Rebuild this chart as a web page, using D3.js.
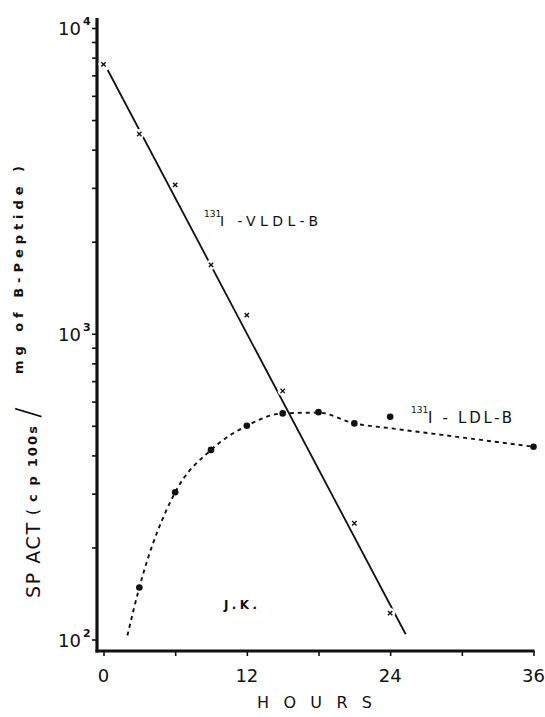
<!DOCTYPE html>
<html>
<head>
<meta charset="utf-8">
<script src="https://cdn.jsdelivr.net/npm/d3@7"></script>
<style>
  html, body { margin: 0; padding: 0; background: #fff; }
  svg { display: block; }
  text { font-family: "DejaVu Sans", "Liberation Sans", sans-serif; fill: #111; }
</style>
</head>
<body>
<svg id="chart" width="545" height="717"></svg>
<script>
// ---------------- data ----------------
const vldlHours  = [0, 3, 6, 9, 12, 15, 21, 24];
const vldlValues = [7600, 4500, 3070, 1680, 1150, 650, 240, 122];

// regression line drawn through the VLDL points (start / end)
const vldlFitHours  = [0.35, 25.3];
const vldlFitValues = [7290, 104];

const ldlHours  = [3, 6, 9, 12, 15, 18, 21, 24, 36];
const ldlValues = [148, 303, 417, 500, 549, 554, 509, 535, 427];

// hand-drawn smooth curve through the LDL points
const ldlCurveHours  = [2, 3, 6, 9, 12, 15, 18, 21, 24, 30, 36];
const ldlCurveValues = [103, 148, 303, 417, 500, 549, 552, 509, 491, 458, 427];

const xTickValues  = [0, 6, 12, 18, 24, 30, 36];
const xTickLabels  = [0, 12, 24, 36];
const yMinorTicks  = [100,200,300,400,500,600,700,800,900,1000,2000,3000,4000,5000,6000,7000,8000,9000,10000];
const yDecades     = [{v:100, exp:"2"}, {v:1000, exp:"3"}, {v:10000, exp:"4"}];

// ---------------- scales ----------------
const svg = d3.select("#chart");
const x = d3.scaleLinear().domain([0, 36]).range([103.5, 533.5]);
const y = d3.scaleLog().domain([100, 10000]).range([639.5, 28]);

const axisX0 = 97;                 // y-axis position
const axisY0 = y(100) + 11.5;      // x-axis position

// ---------------- axes ----------------
const yAxis = d3.axisLeft(y).tickValues(yMinorTicks).tickSize(5).tickFormat("");
svg.append("g").attr("transform", `translate(${axisX0},0)`).call(yAxis)
  .call(g => g.select(".domain").remove())
  .call(g => g.selectAll(".tick line").attr("stroke", "#111").attr("stroke-width", 1.6));

const xAxis = d3.axisBottom(x).tickValues(xTickValues).tickSize(5).tickFormat("");
svg.append("g").attr("transform", `translate(0,${axisY0})`).call(xAxis)
  .call(g => g.select(".domain").remove())
  .call(g => g.selectAll(".tick line").attr("stroke", "#111").attr("stroke-width", 1.6));

svg.append("line").attr("x1", axisX0).attr("x2", axisX0)
  .attr("y1", y(10000) - 10).attr("y2", axisY0 + 1.5)
  .attr("stroke", "#111").attr("stroke-width", 3.2);
svg.append("line").attr("x1", axisX0 - 1.5).attr("x2", x(36) + 1)
  .attr("y1", axisY0).attr("y2", axisY0)
  .attr("stroke", "#111").attr("stroke-width", 3.2);

svg.append("g").selectAll("text").data(xTickLabels).join("text")
  .attr("x", d => x(d)).attr("y", axisY0 + 31)
  .attr("text-anchor", "middle").attr("font-size", 18)
  .text(d => d);

const decG = svg.append("g").selectAll("g").data(yDecades).join("g");
decG.append("text")
  .attr("x", 81).attr("y", d => y(d.v) + 7)
  .attr("text-anchor", "end").attr("font-size", 18)
  .text("10");
decG.append("text")
  .attr("x", 83).attr("y", d => y(d.v) - 3)
  .attr("font-size", 11).attr("font-weight", "bold")
  .text(d => d.exp);

svg.append("text").attr("x", 257).attr("y", 708)
  .attr("font-size", 16).attr("textLength", 115).attr("lengthAdjust", "spacing")
  .text("HOURS");

// y axis title (rotated, read bottom-to-top)
const yt = svg.append("g").attr("transform", "rotate(-90)");
yt.append("text").attr("x", -598).attr("y", 40)
  .attr("font-size", 19).attr("textLength", 75).attr("lengthAdjust", "spacing")
  .text("SP ACT");
yt.append("text").attr("x", -515).attr("y", 38)
  .attr("font-size", 15).text("(");
yt.append("text").attr("x", -502).attr("y", 37)
  .attr("font-size", 13).attr("font-weight", "bold")
  .attr("textLength", 76).attr("lengthAdjust", "spacing")
  .text("c p 100s");
yt.append("text").attr("x", -418).attr("y", 38)
  .attr("font-size", 32).attr("font-weight", "300")
  .text("/");
yt.append("text").attr("x", -374).attr("y", 23)
  .attr("font-size", 13).attr("font-weight", "bold")
  .attr("textLength", 208).attr("lengthAdjust", "spacing")
  .text("mg of B-Peptide )");

// ---------------- VLDL ----------------
const vldlFit = vldlFitHours.map((h, i) => ({h, v: vldlFitValues[i]}));
svg.append("path").datum(vldlFit)
  .attr("d", d3.line().x(d => x(d.h)).y(d => y(d.v)))
  .attr("fill", "none").attr("stroke", "#111").attr("stroke-width", 1.8);

const vldl = vldlHours.map((h, i) => ({h, v: vldlValues[i]}));
svg.append("g").selectAll("circle").data(vldl).join("circle")
  .attr("cx", d => x(d.h)).attr("cy", d => y(d.v)).attr("r", 5).attr("fill", "#fff");
svg.append("g").selectAll("path").data(vldl).join("path")
  .attr("transform", d => `translate(${x(d.h)},${y(d.v)})`)
  .attr("d", d3.symbol(d3.symbolX, 14))
  .attr("fill", "none").attr("stroke", "#111").attr("stroke-width", 1.4);

// ---------------- LDL ----------------
const ldlCurve = ldlCurveHours.map((h, i) => ({h, v: ldlCurveValues[i]}));
svg.append("path").datum(ldlCurve)
  .attr("d", d3.line().x(d => x(d.h)).y(d => y(d.v)).curve(d3.curveMonotoneX))
  .attr("fill", "none").attr("stroke", "#111").attr("stroke-width", 1.9)
  .attr("stroke-dasharray", "4,4");

const ldl = ldlHours.map((h, i) => ({h, v: ldlValues[i]}));
svg.append("g").selectAll("circle").data(ldl).join("circle")
  .attr("cx", d => x(d.h)).attr("cy", d => y(d.v)).attr("r", 3.3)
  .attr("fill", "#111");

// ---------------- annotations ----------------
svg.append("text").attr("x", 204).attr("y", 217).attr("font-size", 9).text("131");
svg.append("text").attr("x", 220).attr("y", 226)
  .attr("font-size", 14).attr("textLength", 98).attr("lengthAdjust", "spacing")
  .text("I -VLDL-B");

svg.append("text").attr("x", 411).attr("y", 413).attr("font-size", 9).text("131");
svg.append("text").attr("x", 428).attr("y", 423)
  .attr("font-size", 15).attr("textLength", 84).attr("lengthAdjust", "spacing")
  .text("I - LDL-B");

svg.append("text").attr("x", 224).attr("y", 609)
  .attr("font-size", 12).attr("font-weight", "bold")
  .attr("textLength", 33).attr("lengthAdjust", "spacing")
  .text("J.K.");
</script>
</body>
</html>
